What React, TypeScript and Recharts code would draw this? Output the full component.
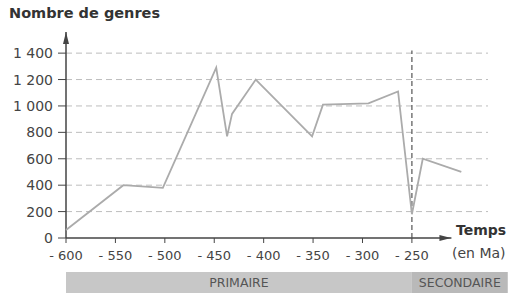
import {
  CartesianGrid, Line, LineChart, ReferenceArea, ReferenceLine, XAxis, YAxis,
} from "recharts";

// Ma (millions d'années) / nombre de genres
const times = [-600, -542, -502, -448, -437, -432, -408, -351, -340, -294, -264, -250, -239, -200];
const genera = [60, 400, 380, 1290, 770, 940, 1200, 770, 1010, 1020, 1110, 180, 600, 500];

const xTicks = [-600, -550, -500, -450, -400, -350, -300, -250];
const yTicks = [0, 200, 400, 600, 800, 1000, 1200, 1400];
const gridValues = [200, 400, 600, 800, 1000, 1200, 1400];

const eraNames = ["PRIMAIRE", "SECONDAIRE"];
const eraStarts = [-600, -250];
const eraEnds = [-250, -153];

const BOUNDARY = -250; // limite Primaire / Secondaire
const X_DOMAIN: [number, number] = [-600, -173];
const Y_DOMAIN: [number, number] = [0, 1560];
const X_AXIS_END = -210;
const BAND_TOP = -257;
const BAND_BOTTOM = -416;

const INK = "#444";
const FONT = "'DejaVu Sans', sans-serif";

const data = times.map((t, i) => ({ t, n: genera[i] }));
const eraFills = ["#c7c7c7", "#b9b9b9"];

const fmtX = (v: number) => `- ${Math.abs(v)}`;
const fmtY = (v: number) => (v >= 1000 ? `${Math.floor(v / 1000)} ${String(v % 1000).padStart(3, "0")}` : `${v}`);

export default function App() {
  return (
    <div style={{ position: "absolute", left: 0, top: 0, width: 511, height: 297, background: "#fff", fontFamily: FONT }}>
      <svg width={0} height={0} style={{ position: "absolute" }}>
        <defs>
          <marker id="arrowHead" viewBox="0 0 12 6" refX={12} refY={3} markerWidth={12} markerHeight={6} markerUnits="userSpaceOnUse" orient="auto">
            <path d="M0,0 L12,3 L0,6 Z" fill={INK} />
          </marker>
        </defs>
      </svg>
      <div style={{ position: "absolute", left: 9, top: 5, fontSize: 14.5, fontWeight: 700, color: "#333" }}>
        Nombre de genres
      </div>
      <LineChart width={511} height={297} data={data} margin={{ top: 32, right: 23, left: 0, bottom: 29 }}>
        <CartesianGrid horizontal vertical={false} horizontalValues={gridValues} stroke="#bdbdbd" strokeDasharray="6 4" />
        <XAxis
          dataKey="t"
          type="number"
          domain={X_DOMAIN}
          ticks={xTicks}
          tickFormatter={fmtX}
          axisLine={false}
          tickLine={{ stroke: INK }}
          tickSize={5}
          tickMargin={8}
          height={30}
          tick={{ fill: INK, fontSize: 13, fontFamily: FONT }}
          interval={0}
        />
        <YAxis
          type="number"
          domain={Y_DOMAIN}
          ticks={yTicks}
          tickFormatter={fmtY}
          axisLine={false}
          tickLine={{ stroke: INK }}
          tickSize={8}
          tickMargin={5}
          width={66}
          tick={{ fill: INK, fontSize: 14, fontFamily: FONT }}
          interval={0}
        />
        {eraNames.map((name, i) => (
          <ReferenceArea
            key={name}
            x1={eraStarts[i]}
            x2={eraEnds[i]}
            y1={BAND_BOTTOM}
            y2={BAND_TOP}
            ifOverflow="visible"
            fill={eraFills[i]}
            fillOpacity={1}
            stroke="none"
            label={{ value: name, position: "center", fill: "#555", fontSize: 12.5, fontFamily: FONT }}
          />
        ))}
        <ReferenceLine
          segment={[{ x: X_DOMAIN[0], y: 0 }, { x: X_AXIS_END, y: 0 }]}
          stroke={INK}
          strokeWidth={1.5}
          markerEnd="url(#arrowHead)"
        />
        <ReferenceLine
          segment={[{ x: X_DOMAIN[0], y: 0 }, { x: X_DOMAIN[0], y: Y_DOMAIN[1] }]}
          stroke={INK}
          strokeWidth={1.5}
          markerEnd="url(#arrowHead)"
        />
        <ReferenceLine
          segment={[{ x: BOUNDARY, y: 0 }, { x: BOUNDARY, y: 1420 }]}
          stroke="#555"
          strokeWidth={1.2}
          strokeDasharray="5 3"
        />
        <Line type="linear" dataKey="n" stroke="#ababab" strokeWidth={1.8} dot={false} isAnimationActive={false} />
      </LineChart>
      <div style={{ position: "absolute", left: 456, top: 222, fontSize: 14, fontWeight: 700, color: "#333" }}>Temps</div>
      <div style={{ position: "absolute", left: 452, top: 245, fontSize: 14, color: INK }}>(en Ma)</div>
    </div>
  );
}
